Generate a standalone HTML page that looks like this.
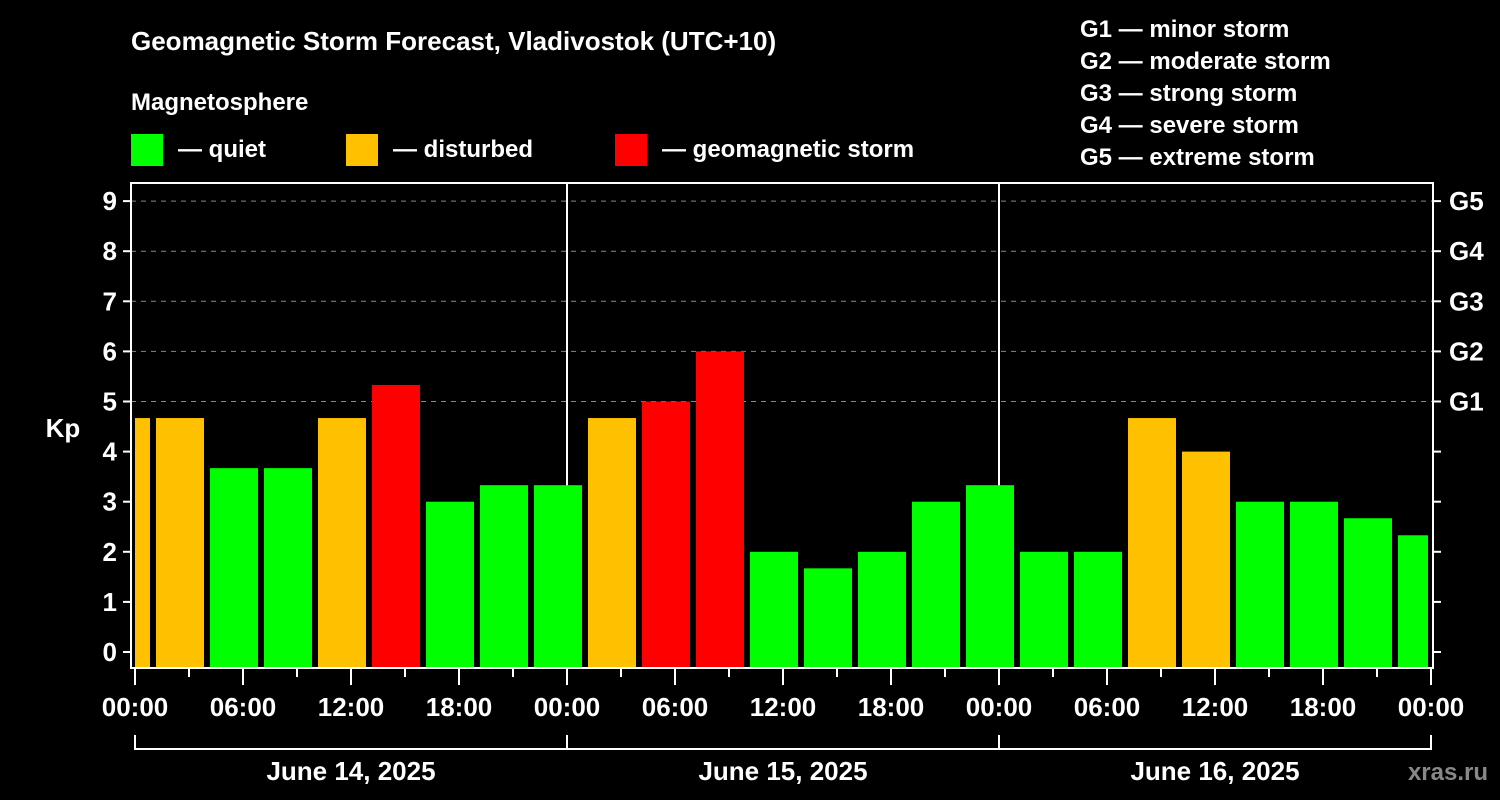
<!DOCTYPE html>
<html><head><meta charset="utf-8">
<style>
html,body{margin:0;padding:0;background:#000;}
svg{display:block;font-family:"Liberation Sans",Arial,sans-serif;font-weight:bold;}
</style></head>
<body>
<svg id="chart" width="1500" height="800" viewBox="0 0 1500 800" xmlns="http://www.w3.org/2000/svg">
<rect width="1500" height="800" fill="#000"/>
<text x="131" y="50" fill="#fff" font-size="26">Geomagnetic Storm Forecast, Vladivostok (UTC+10)</text>
<text x="131" y="110" fill="#fff" font-size="24">Magnetosphere</text>
<g><rect x="131" y="134" width="32" height="32" fill="#00ff00"/><text x="178" y="157" fill="#fff" font-size="24">— quiet</text></g>
<g><rect x="346" y="134" width="32" height="32" fill="#ffc000"/><text x="393" y="157" fill="#fff" font-size="24">— disturbed</text></g>
<g><rect x="615" y="134" width="32" height="32" fill="#ff0000"/><text x="662" y="157" fill="#fff" font-size="24">— geomagnetic storm</text></g>
<g fill="#fff" font-size="24">
<text x="1080" y="37">G1 — minor storm</text>
<text x="1080" y="69">G2 — moderate storm</text>
<text x="1080" y="101">G3 — strong storm</text>
<text x="1080" y="133">G4 — severe storm</text>
<text x="1080" y="165">G5 — extreme storm</text>
</g>
<text x="63" y="437" fill="#fff" font-size="26" text-anchor="middle">Kp</text>
<g id="grid"></g>
<g id="bars"></g>
<g id="axes"></g>
<text x="1488" y="780" fill="#888" font-size="24" text-anchor="end">xras.ru</text>
</svg>
<script>
const kpValues = [4.67,4.67,3.67,3.67,4.67,5.33,3,3.33,3.33,4.67,5,6,2,1.67,2,3,3.33,2,2,4.67,4,3,3,2.67,2.33];
const yTicks = [0,1,2,3,4,5,6,7,8,9];
const gLabels = ["G1","G2","G3","G4","G5"];
const gLevels = [5,6,7,8,9];
const xTickLabels = ["00:00","06:00","12:00","18:00","00:00","06:00","12:00","18:00","00:00","06:00","12:00","18:00","00:00"];
const dayLabels = ["June 14, 2025","June 15, 2025","June 16, 2025"];

const NS="http://www.w3.org/2000/svg";
const X0=135, PXH=18, Y0=652, PXK=50.1, BOT=668, LEFT=131, TOP=183, RIGHT=1433;
const xs=h=>X0+h*PXH;
const ys=k=>Y0-k*PXK;
function mk(tag,attrs,parent){const e=document.createElementNS(NS,tag);for(const k in attrs)e.setAttribute(k,attrs[k]);parent.appendChild(e);return e;}
const grid=document.getElementById('grid'),bars=document.getElementById('bars'),axes=document.getElementById('axes');
function color(k){return k>=5?'#ff0000':(k>=4?'#ffc000':'#00ff00');}
// grid
yTicks.forEach(t=>{
 if(t>=5){const l=mk('line',{x1:LEFT,x2:RIGHT,y1:ys(t),y2:ys(t),stroke:'#888','stroke-dasharray':'5,5','stroke-width':1},grid);
 
 }
});
// day separators
[1,2].forEach(d=>{const l=mk('line',{x1:xs(24*d),x2:xs(24*d),y1:TOP,y2:BOT,stroke:'#fff','stroke-width':2},grid);

});
// bars
const xmin=X0, xmax=1428;
kpValues.forEach((v,i)=>{
 let x1=xs(3*i-11/6), x2=x1+48;
 x1=Math.max(x1,xmin); x2=Math.min(x2,xmax);
 const r=mk('rect',{x:x1,y:ys(v),width:x2-x1,height:BOT-ys(v),fill:color(v)},bars);
 
 
});
// axes frame
const fr=mk('rect',{x:LEFT,y:TOP,width:RIGHT-LEFT,height:BOT-TOP,fill:'none',stroke:'#fff','stroke-width':2},axes);


yTicks.forEach(t=>{
 mk('line',{x1:LEFT-8,x2:LEFT,y1:ys(t),y2:ys(t),stroke:'#fff','stroke-width':2},axes);
 mk('line',{x1:RIGHT,x2:RIGHT+8,y1:ys(t),y2:ys(t),stroke:'#fff','stroke-width':2},axes);
 const tx=mk('text',{x:LEFT-14,y:ys(t)+9,fill:'#fff','font-size':26,'text-anchor':'end'},axes);
 tx.textContent=t;
 
 
});
gLabels.forEach((g,i)=>{
 const tx=mk('text',{x:RIGHT+16,y:ys(gLevels[i])+9,fill:'#fff','font-size':26},axes);
 tx.textContent=g;
 
 
});
for(let h=0;h<=72;h+=3){
 const major=h%6===0;
 mk('line',{x1:xs(h),x2:xs(h),y1:BOT,y2:major?685:677,stroke:'#fff','stroke-width':2},axes);
}
xTickLabels.forEach((s,i)=>{
 const tx=mk('text',{x:xs(6*i),y:716,fill:'#fff','font-size':26,'text-anchor':'middle'},axes);
 tx.textContent=s;
 
 
});
// day brackets
const bp=mk('path',{d:`M${xs(0)},735 V749 H${xs(72)} V735 M${xs(24)},735 V749 M${xs(48)},735 V749`,stroke:'#fff','stroke-width':2,fill:'none'},axes);


dayLabels.forEach((s,i)=>{
 const tx=mk('text',{x:xs(24*i+12),y:780,fill:'#fff','font-size':26,'text-anchor':'middle'},axes);
 tx.textContent=s;
 
 
});
</script>
</body></html>
